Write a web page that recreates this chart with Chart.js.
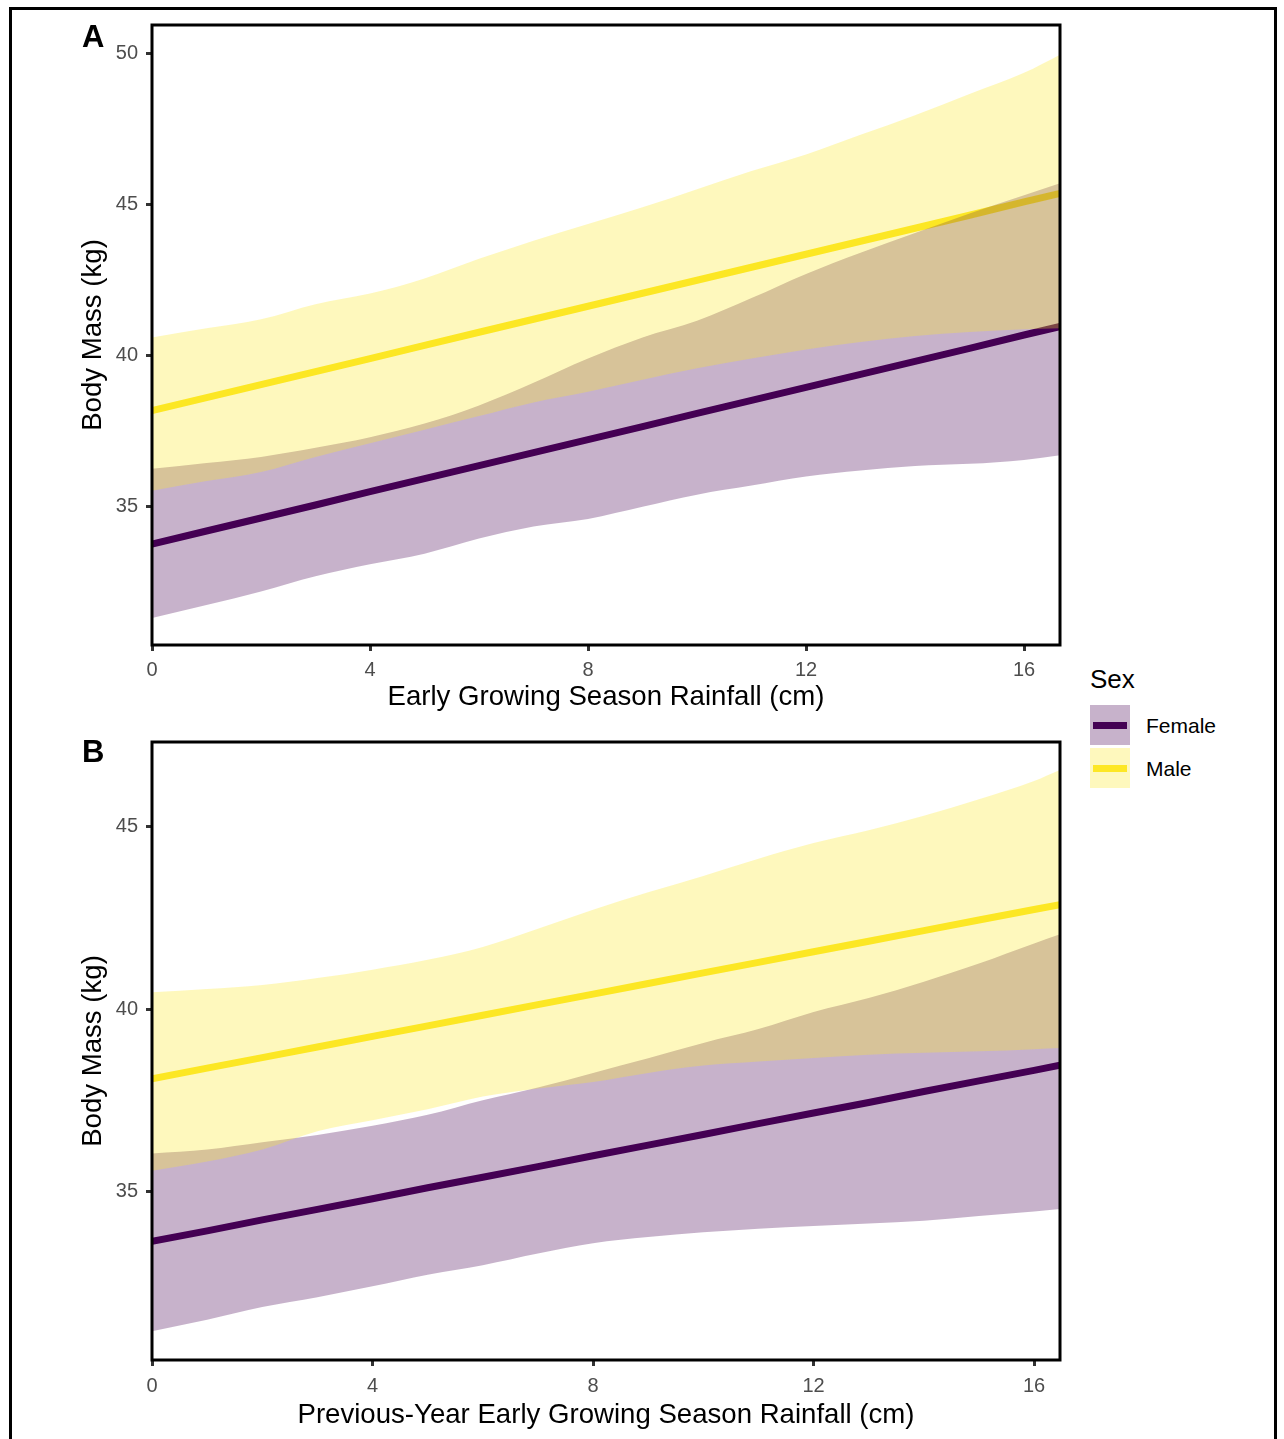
<!DOCTYPE html>
<html>
<head>
<meta charset="utf-8">
<script src="https://cdn.jsdelivr.net/npm/chart.js@4.4.1/dist/chart.umd.min.js"></script>
<style>
  body { margin: 0; background: #fff; font-family: 'Liberation Sans', Arial, sans-serif; }
  #page { position: relative; width: 1284px; height: 1439px; overflow: hidden; }
  #frame { position: absolute; left: 9px; top: 7px; width: 1268px; height: 1500px; border: 3px solid #000; box-sizing: border-box; }
  canvas { position: absolute; left: 0; }
  .panel { position: absolute; left: 82px; font-weight: bold; font-size: 31px; line-height: 1; color: #000; }
  .legtitle { position: absolute; left: 1090px; top: 666px; font-size: 26px; line-height: 1; color: #000; }
  .key { position: absolute; left: 1090px; width: 40px; height: 40px; }
  .key span { position: absolute; left: 3px; right: 3px; top: 17px; height: 7px; }
  .keylabel { position: absolute; left: 1146px; font-size: 21px; line-height: 1; color: #000; }
</style>
</head>
<body>
<div id="page">
  <div id="frame"></div>
  <canvas id="chartA" width="1080" height="720" style="top:0px"></canvas>
  <canvas id="chartB" width="1080" height="729" style="top:710px"></canvas>
  <div class="panel" style="top:21px">A</div>
  <div class="panel" style="top:736px">B</div>
  <div id="legend"></div>
</div>
<script>
// panel A: early growing season rainfall
const rainA = [0, 1, 2, 3, 4, 5, 6, 7, 8, 9, 10, 11, 12, 13, 14, 15, 16, 16.66];
const femaleFitA  = [33.77, 34.2, 34.63, 35.06, 35.5, 35.93, 36.36, 36.79, 37.22, 37.65, 38.09, 38.52, 38.95, 39.38, 39.81, 40.24, 40.68, 40.96];
const femaleLowA  = [31.32, 31.75, 32.2, 32.7, 33.1, 33.45, 33.95, 34.35, 34.6, 35.0, 35.4, 35.7, 36.0, 36.2, 36.35, 36.42, 36.55, 36.7];
const femaleHighA = [36.26, 36.45, 36.65, 36.95, 37.3, 37.75, 38.35, 39.1, 39.9, 40.6, 41.15, 41.9, 42.7, 43.4, 44.05, 44.7, 45.3, 45.7];
const maleFitA    = [38.18, 38.61, 39.04, 39.47, 39.9, 40.34, 40.77, 41.2, 41.63, 42.06, 42.49, 42.92, 43.35, 43.78, 44.21, 44.64, 45.08, 45.36];
const maleLowA    = [35.53, 35.85, 36.15, 36.65, 37.1, 37.55, 38.0, 38.45, 38.8, 39.2, 39.58, 39.9, 40.2, 40.45, 40.65, 40.78, 40.87, 40.9];
const maleHighA   = [40.6, 40.9, 41.2, 41.7, 42.05, 42.55, 43.2, 43.8, 44.35, 44.9, 45.5, 46.1, 46.65, 47.3, 47.95, 48.65, 49.35, 49.95];

// panel B: previous-year early growing season rainfall
const rainB = [0, 1, 2, 3, 4, 5, 6, 7, 8, 9, 10, 11, 12, 13, 14, 15, 16, 16.47];
const femaleFitB  = [33.63, 33.92, 34.22, 34.51, 34.8, 35.1, 35.39, 35.68, 35.98, 36.27, 36.56, 36.86, 37.15, 37.44, 37.74, 38.03, 38.32, 38.46];
const femaleLowB  = [31.17, 31.48, 31.83, 32.1, 32.4, 32.72, 32.98, 33.3, 33.58, 33.75, 33.88, 33.98, 34.05, 34.12, 34.2, 34.33, 34.45, 34.52];
const femaleHighB = [36.04, 36.15, 36.35, 36.55, 36.8, 37.1, 37.5, 37.85, 38.25, 38.65, 39.07, 39.45, 39.92, 40.3, 40.75, 41.25, 41.8, 42.05];
const maleFitB    = [38.09, 38.38, 38.67, 38.96, 39.25, 39.54, 39.83, 40.12, 40.41, 40.7, 40.99, 41.28, 41.57, 41.86, 42.15, 42.44, 42.73, 42.86];
const maleLowB    = [35.57, 35.82, 36.15, 36.65, 36.95, 37.25, 37.6, 37.82, 38.0, 38.25, 38.45, 38.56, 38.66, 38.75, 38.8, 38.84, 38.9, 38.93];
const maleHighB   = [40.46, 40.55, 40.66, 40.85, 41.08, 41.35, 41.7, 42.2, 42.72, 43.2, 43.65, 44.12, 44.55, 44.9, 45.3, 45.75, 46.25, 46.55];

const rainTicks = [0, 4, 8, 12, 16];
const massTicksA = [35, 40, 45, 50];
const massTicksB = [35, 40, 45];
const sexes = ['Female', 'Male'];

const lineColors = { Female: '#440154', Male: '#FDE725' };
const bandColors = { Female: 'rgba(68, 1, 84, 0.3)', Male: 'rgba(253, 231, 37, 0.3)' };
const fontFamily = "'Liberation Sans', Arial, sans-serif";

function pts(xs, ys) {
    return xs.map((x, i) => ({ x: x, y: ys[i] }));
}

// black box round the plot area
const framePlugin = {
    id: 'frame',
    afterDatasetsDraw(chart) {
        const a = chart.chartArea;
        const ctx = chart.ctx;
        ctx.save();
        ctx.strokeStyle = '#000';
        ctx.lineWidth = 3;
        ctx.strokeRect(a.left, a.top, a.right - a.left, a.bottom - a.top);
        ctx.restore();
    }
};

function makeChart(id, xs, fits, lows, highs, opts) {
    const datasets = [];
    // ribbons: Male on top, then Female, lines underneath (like the ggplot layer order)
    ['Male', 'Female'].forEach((s, k) => {
        datasets.push({
            label: s + ' upper', data: pts(xs, highs[s]), fill: '+1',
            backgroundColor: bandColors[s], borderColor: 'transparent', borderWidth: 0,
            cubicInterpolationMode: 'monotone', pointRadius: 0, order: k + 1
        });
        datasets.push({
            label: s + ' lower', data: pts(xs, lows[s]), fill: false,
            borderColor: 'transparent', borderWidth: 0,
            cubicInterpolationMode: 'monotone', pointRadius: 0, order: k + 1
        });
    });
    sexes.forEach(s => {
        datasets.push({
            label: s, data: pts(xs, fits[s]), fill: false,
            borderColor: lineColors[s], borderWidth: 7, pointRadius: 0, order: 3
        });
    });

    return new Chart(document.getElementById(id).getContext('2d'), {
        type: 'line',
        data: { datasets: datasets },
        options: {
            responsive: false,
            animation: false,
            devicePixelRatio: 1,
            layout: { padding: { top: opts.padTop, right: 20, left: 0, bottom: 0 } },
            plugins: { legend: { display: false }, tooltip: { enabled: false } },
            scales: {
                x: {
                    type: 'linear', min: 0, max: opts.xMax,
                    afterBuildTicks: s => { s.ticks = rainTicks.map(v => ({ value: v })); },
                    afterFit: s => { s.height = opts.xHeight; },
                    grid: { drawOnChartArea: false, drawTicks: true, tickLength: 6, lineWidth: 3, color: '#333' },
                    border: { display: false },
                    ticks: { color: '#4D4D4D', font: { family: fontFamily, size: 20 }, padding: opts.xTickPad, maxRotation: 0 },
                    title: {
                        display: true, text: opts.xTitle, color: '#000',
                        font: { family: fontFamily, size: 27.6 }, padding: { top: 0, bottom: opts.xTitlePad }
                    }
                },
                y: {
                    type: 'linear', min: opts.yMin, max: opts.yMax,
                    afterBuildTicks: s => { s.ticks = opts.yTicks.map(v => ({ value: v })); },
                    afterFit: s => { s.width = 152; },
                    grid: { drawOnChartArea: false, drawTicks: true, tickLength: 6, lineWidth: 3, color: '#333' },
                    border: { display: false },
                    ticks: { color: '#4D4D4D', font: { family: fontFamily, size: 20 }, padding: 8 },
                    title: {
                        display: true, text: 'Body Mass (kg)', color: '#000',
                        font: { family: fontFamily, size: 27.6 }, padding: { top: 77, bottom: 0 }
                    }
                }
            }
        },
        plugins: [framePlugin]
    });
}

makeChart('chartA', rainA,
    { Female: femaleFitA, Male: maleFitA },
    { Female: femaleLowA, Male: maleLowA },
    { Female: femaleHighA, Male: maleHighA },
    { padTop: 25, xMax: 16.66, yMin: 30.43, yMax: 50.93, yTicks: massTicksA,
      xHeight: 75, xTickPad: 7, xTitlePad: 6, xTitle: 'Early Growing Season Rainfall (cm)' });

makeChart('chartB', rainB,
    { Female: femaleFitB, Male: maleFitB },
    { Female: femaleLowB, Male: maleLowB },
    { Female: femaleHighB, Male: maleHighB },
    { padTop: 32, xMax: 16.47, yMin: 30.38, yMax: 47.32, yTicks: massTicksB,
      xHeight: 79, xTickPad: 8, xTitlePad: 7, xTitle: 'Previous-Year Early Growing Season Rainfall (cm)' });

// legend
const legend = document.getElementById('legend');
let html = '<div class="legtitle">Sex</div>';
sexes.forEach((s, i) => {
    const top = 705 + i * 43;
    html += '<div class="key" style="top:' + top + 'px;background:' + bandColors[s] + '"><span style="background:' + lineColors[s] + '"></span></div>';
    html += '<div class="keylabel" style="top:' + (top + 10) + 'px">' + s + '</div>';
});
legend.innerHTML = html;
</script>
</body>
</html>
